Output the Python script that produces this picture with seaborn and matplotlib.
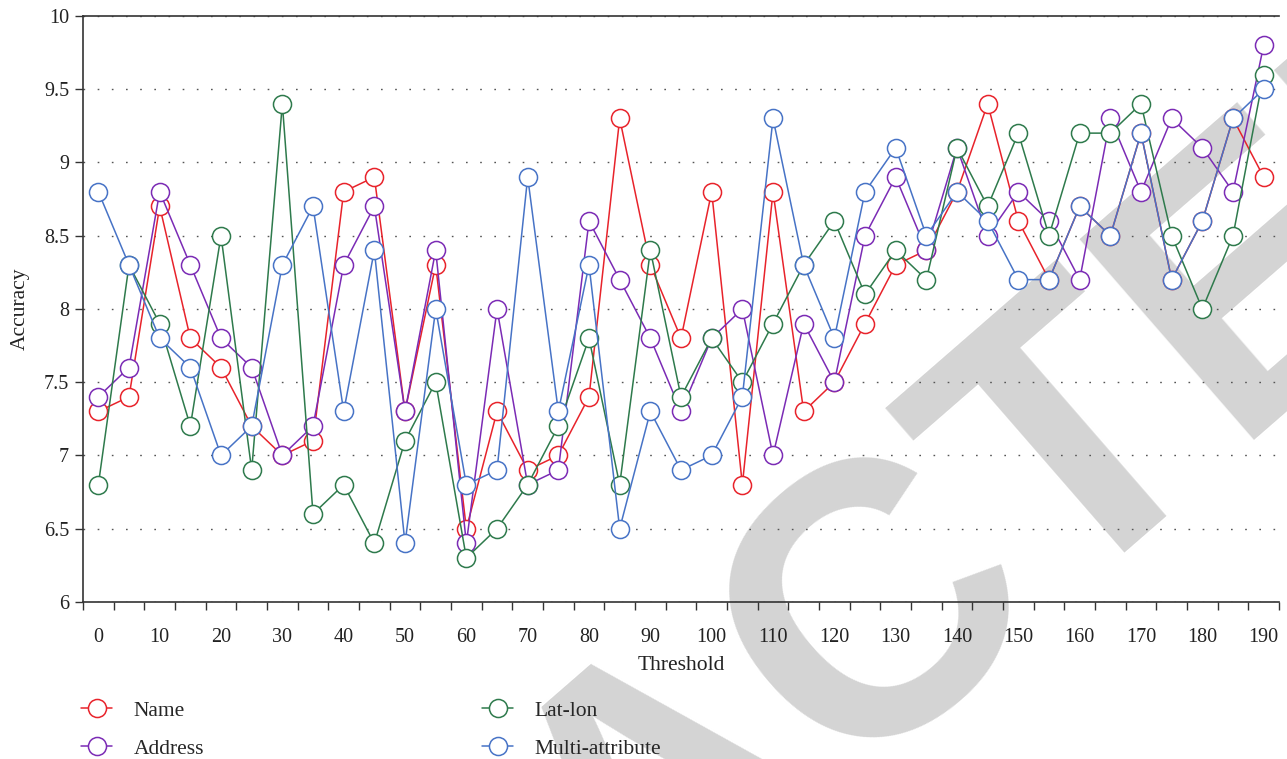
import numpy as np
import matplotlib
matplotlib.use("Agg")
import matplotlib.pyplot as plt
import seaborn as sns
from matplotlib.ticker import FixedLocator, FixedFormatter

# Threshold categories (x axis)
thresholds = [0, 5, 10, 15, 20, 25, 30, 35, 40, 45, 50, 55, 60, 65, 70, 75, 80, 85, 90, 95,
              100, 105, 110, 115, 120, 125, 130, 135, 140, 145, 150, 155, 160, 165, 170, 175,
              180, 185, 190]

# Accuracy per matching attribute
name_acc = [7.3, 7.4, 8.7, 7.8, 7.6, 7.2, 7.0, 7.1, 8.8, 8.9, 7.3, 8.3, 6.5, 7.3, 6.9, 7.0,
            7.4, 9.3, 8.3, 7.8, 8.8, 6.8, 8.8, 7.3, 7.5, 7.9, 8.3, 8.4, 8.8, 9.4, 8.6, 8.2,
            8.7, 8.5, 9.2, 8.2, 8.6, 9.3, 8.9]
address_acc = [7.4, 7.6, 8.8, 8.3, 7.8, 7.6, 7.0, 7.2, 8.3, 8.7, 7.3, 8.4, 6.4, 8.0, 6.8, 6.9,
               8.6, 8.2, 7.8, 7.3, 7.8, 8.0, 7.0, 7.9, 7.5, 8.5, 8.9, 8.4, 9.1, 8.5, 8.8, 8.6,
               8.2, 9.3, 8.8, 9.3, 9.1, 8.8, 9.8]
latlon_acc = [6.8, 8.3, 7.9, 7.2, 8.5, 6.9, 9.4, 6.6, 6.8, 6.4, 7.1, 7.5, 6.3, 6.5, 6.8, 7.2,
              7.8, 6.8, 8.4, 7.4, 7.8, 7.5, 7.9, 8.3, 8.6, 8.1, 8.4, 8.2, 9.1, 8.7, 9.2, 8.5,
              9.2, 9.2, 9.4, 8.5, 8.0, 8.5, 9.6]
multi_acc = [8.8, 8.3, 7.8, 7.6, 7.0, 7.2, 8.3, 8.7, 7.3, 8.4, 6.4, 8.0, 6.8, 6.9, 8.9, 7.3,
             8.3, 6.5, 7.3, 6.9, 7.0, 7.4, 9.3, 8.3, 7.8, 8.8, 9.1, 8.5, 8.8, 8.6, 8.2, 8.2,
             8.7, 8.5, 9.2, 8.2, 8.6, 9.3, 9.5]

series_names = ["Name", "Address", "Lat-lon", "Multi-attribute"]
series_values = [name_acc, address_acc, latlon_acc, multi_acc]
series_colors = ["#E8232B", "#7B2BB5", "#2E7A4C", "#4773C6"]

y_ticks = [6, 6.5, 7, 7.5, 8, 8.5, 9, 9.5, 10]
y_tick_labels = ["6", "6.5", "7", "7.5", "8", "8.5", "9", "9.5", "10"]
x_tick_labels = ["0", "10", "20", "30", "40", "50", "60", "70", "80", "90", "100", "110",
                 "120", "130", "140", "150", "160", "170", "180", "190"]

sns.set_theme(style="white")
serif = ["Liberation Serif", "DejaVu Serif"]
plt.rcParams["font.family"] = serif

fig = plt.figure(figsize=(12.87, 7.59), dpi=100)
fig.patch.set_facecolor("white")
ax = fig.add_axes([0.0645, 0.207, 0.9293, 0.772])
ax.set_zorder(2)
ax.patch.set_alpha(0)

# Light diagonal stamp behind the plot
fig.text(0.52, -0.045, "RETRACTED", rotation=41, rotation_mode="anchor",
         ha="center", va="center", fontsize=278, fontweight="bold",
         family=["Liberation Sans", "DejaVu Sans"], color="#D4D4D4", zorder=0)

for label, vals, col in zip(series_names, series_values, series_colors):
    df = {"Threshold": thresholds, "Accuracy": vals}
    sns.lineplot(data=df, x="Threshold", y="Accuracy", ax=ax, color=col,
                 linewidth=1.1, marker="o", markersize=13, markerfacecolor="white",
                 markeredgecolor=col, markeredgewidth=1.1, label=label, errorbar=None)

ax.set_xlim(-2.5, 192.5)
ax.set_ylim(6, 10)

# Labels sit on every other category; ticks mark category boundaries
ax.xaxis.set_major_locator(FixedLocator(thresholds[::2]))
ax.xaxis.set_major_formatter(FixedFormatter(x_tick_labels))
ax.xaxis.set_minor_locator(FixedLocator([t - 2.5 for t in thresholds] + [thresholds[-1] + 2.5]))
ax.tick_params(axis="x", which="major", length=0, pad=19, labelsize=14.5, colors="#222222")
ax.tick_params(axis="x", which="minor", length=6, width=1.0, color="#333333",
               direction="out", bottom=True)

ax.yaxis.set_major_locator(FixedLocator(y_ticks))
ax.yaxis.set_major_formatter(FixedFormatter(y_tick_labels))
ax.tick_params(axis="y", which="major", length=6, width=1.0, color="#333333",
               direction="out", left=True, labelsize=14.5, pad=4, labelcolor="#222222")

ax.grid(axis="y", linestyle=(0, (1.2, 9)), linewidth=1.0, color="#555555")
ax.grid(axis="x", visible=False)

for side in ["left", "bottom", "top"]:
    ax.spines[side].set_visible(True)
    ax.spines[side].set_color("#333333")
    ax.spines[side].set_linewidth(1.2)
ax.spines["right"].set_visible(False)

ax.set_xlabel("Threshold", fontsize=15.5, color="#222222", labelpad=6)
ax.set_ylabel("Accuracy", fontsize=15.5, color="#222222", labelpad=10)

handles, labels = ax.get_legend_handles_labels()
ax.legend(handles, labels, ncol=2, loc="upper left", bbox_to_anchor=(0.063, 0.077),
          bbox_transform=fig.transFigure, frameon=False, fontsize=15.5,
          handlelength=1.45, handletextpad=1.0, columnspacing=12.9, labelspacing=0.85,
          borderaxespad=0, borderpad=0)

fig.savefig("out.png", dpi=100, facecolor="white")
